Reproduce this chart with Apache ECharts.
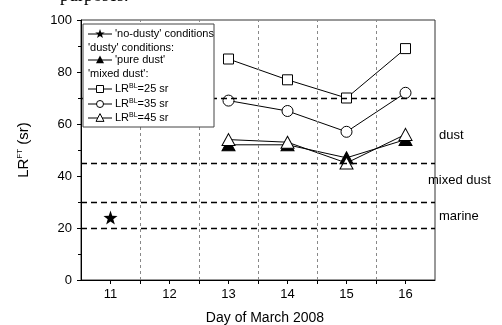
<!DOCTYPE html>
<html><head><meta charset="utf-8">
<script src="https://cdn.jsdelivr.net/npm/echarts@6/dist/echarts.min.js"></script>
<style>html,body{margin:0;padding:0;background:#fff}#c{width:502px;height:325px}</style>
</head><body><div id="c"></div>
<script>
const days = [13, 14, 15, 16];
const noDustyDay = [11];
const noDusty = [24];
const pureDust = [52, 52, 47, 54];
const mixed25 = [85, 77, 70, 89];
const mixed35 = [69, 65, 57, 72];
const mixed45 = [54, 53, 45, 56];
const yTicks = [0, 20, 40, 60, 80, 100];
const xTicks = [11, 12, 13, 14, 15, 16];
const boundaries = [70, 45, 30, 20];
const dayBreaks = [11.5, 12.5, 13.5, 14.5, 15.5];
const classLabels = ['dust', 'mixed dust', 'marine'];

const FONT = '"Liberation Sans", Arial, sans-serif';
const STAR = 'path://M0,-10L2.35,-3.24L9.51,-3.09L3.8,1.24L5.88,8.09L0,4L-5.88,8.09L-3.8,1.24L-9.51,-3.09L-2.35,-3.24Z';
const pairs = (xs, ys) => xs.map((x, i) => [x, ys[i]]);

const chart = echarts.init(document.getElementById('c'), null, {renderer: 'canvas'});

function starPts(cx, cy, r) {
  const pts = [];
  for (let i = 0; i < 10; i++) {
    const a = -Math.PI / 2 + i * Math.PI / 5;
    const rr = i % 2 ? r * 0.4 : r;
    pts.push([cx + rr * Math.cos(a), cy + rr * Math.sin(a)]);
  }
  return pts;
}
function triPts(cx, cy, s) {
  return [[cx, cy - s * 0.55], [cx + s * 0.5, cy + s * 0.42], [cx - s * 0.5, cy + s * 0.42]];
}
const lx0 = 88, lx1 = 112, lxm = 100, tx = 115;
const legendG = [
  {type: 'rect', shape: {x: 83, y: 24, width: 131, height: 103}, style: {fill: '#fff', stroke: '#444', lineWidth: 1}},
];
function lineRow(y) {
  legendG.push({type: 'line', shape: {x1: lx0, y1: y, x2: lx1, y2: y}, style: {stroke: '#000', lineWidth: 1}});
}
function txt(x, y, t) {
  legendG.push({type: 'text', x: x, y: y, style: {text: t, font: '11px ' + FONT, fill: '#000', verticalAlign: 'middle'}});
}
function lrTxt(y, v) {
  legendG.push({type: 'text', x: tx, y: y, style: {
    text: '{a|LR}{s|BL}{a|=' + v + ' sr}', verticalAlign: 'middle',
    rich: {a: {font: '11px ' + FONT, fill: '#000'}, s: {font: '7px ' + FONT, fill: '#000', verticalAlign: 'top', padding: [0,0,5,0]}}
  }});
}
lineRow(34); legendG.push({type: 'polygon', shape: {points: starPts(lxm, 34, 5)}, style: {fill: '#000'}}); txt(tx, 34, "'no-dusty' conditions");
txt(lx0, 48, "'dusty' conditions:");
lineRow(60); legendG.push({type: 'polygon', shape: {points: triPts(lxm, 60, 8)}, style: {fill: '#000'}}); txt(tx, 60, "'pure dust'");
txt(lx0, 74, "'mixed dust':");
lineRow(89); legendG.push({type: 'rect', shape: {x: lxm - 3.5, y: 85.5, width: 7, height: 7}, style: {fill: '#fff', stroke: '#000', lineWidth: 1}}); lrTxt(89, 25);
lineRow(104); legendG.push({type: 'circle', shape: {cx: lxm, cy: 104, r: 3.5}, style: {fill: '#fff', stroke: '#000', lineWidth: 1}}); lrTxt(104, 35);
lineRow(118); legendG.push({type: 'polygon', shape: {points: triPts(lxm, 118, 8)}, style: {fill: '#fff', stroke: '#000', lineWidth: 1}}); lrTxt(118, 45);
legendG.forEach(g => { g.z = 100; });

const sideLabels = [
  {type: 'text', x: 439, y: 135, style: {text: classLabels[0], font: '13px ' + FONT, fill: '#000', verticalAlign: 'middle'}},
  {type: 'text', x: 428, y: 180, style: {text: classLabels[1], font: '13px ' + FONT, fill: '#000', verticalAlign: 'middle'}},
  {type: 'text', x: 439, y: 216, style: {text: classLabels[2], font: '13px ' + FONT, fill: '#000', verticalAlign: 'middle'}},
  {type: 'text', x: 265, y: 318, style: {text: 'Day of March 2008', font: '14px ' + FONT, fill: '#000', align: 'center', verticalAlign: 'middle'}},
  {type: 'text', x: 60, y: 5, style: {text: 'purposes.', font: '18px "Liberation Serif", "Times New Roman", serif', fill: '#000', verticalAlign: 'bottom'}},
];

const option = {
  animation: false,
  backgroundColor: '#fff',
  grid: {left: 81, right: 67, top: 20, bottom: 45, show: true, borderColor: '#333', borderWidth: 1, backgroundColor: 'transparent'},
  xAxis: {
    type: 'value', min: 10.5, max: 16.5, interval: 0.5,
    axisLine: {show: true, onZero: false, lineStyle: {color: '#000', width: 1}},
    axisTick: {show: true, length: 4, lineStyle: {color: '#000'}},
    axisLabel: {margin: 8, color: '#000', fontSize: 13, fontFamily: FONT,
      formatter: v => xTicks.includes(v) ? String(v) : '', showMinLabel: false, showMaxLabel: false},
    splitLine: {show: false}
  },
  yAxis: {
    type: 'value', min: yTicks[0], max: yTicks[yTicks.length - 1], interval: 20,
    name: '{a|LR}{s|FT}{a| (sr)}', nameLocation: 'middle', nameGap: 50, nameRotate: 90,
    nameTextStyle: {rich: {a: {fontSize: 15, fontFamily: FONT, color: '#000'}, s: {fontSize: 8, fontFamily: FONT, color: '#000', verticalAlign: 'top', padding: [0,0,7,0]}}},
    axisLine: {show: true, lineStyle: {color: '#000', width: 1}},
    axisTick: {show: true, length: 4, lineStyle: {color: '#000'}},
    minorTick: {show: true, splitNumber: 2, length: 3, lineStyle: {color: '#000'}},
    axisLabel: {margin: 9, color: '#000', fontSize: 13, fontFamily: FONT},
    splitLine: {show: false}
  },
  series: [
    {type: 'line', data: [], silent: true,
      markLine: {silent: true, symbol: 'none', label: {show: false},
        lineStyle: {type: [3, 3], color: '#888', width: 1},
        data: dayBreaks.map(v => ({xAxis: v}))}},
    {type: 'line', data: [], silent: true,
      markLine: {silent: true, symbol: 'none', label: {show: false},
        lineStyle: {type: [6, 4], color: '#000', width: 1.3},
        data: boundaries.map(v => ({yAxis: v}))}},
    {name: 'no-dusty', type: 'line', data: pairs(noDustyDay, noDusty), symbol: STAR, symbolSize: 14,
      itemStyle: {color: '#000'}, lineStyle: {color: '#000', width: 1}},
    {name: 'pure dust', type: 'line', data: pairs(days, pureDust), symbol: 'triangle', symbolSize: [13, 12],
      itemStyle: {color: '#000', borderColor: '#000'}, lineStyle: {color: '#000', width: 1}},
    {name: 'LR25', type: 'line', data: pairs(days, mixed25), symbol: 'rect', symbolSize: 10,
      itemStyle: {color: '#fff', borderColor: '#000', borderWidth: 1}, lineStyle: {color: '#000', width: 1}},
    {name: 'LR35', type: 'line', data: pairs(days, mixed35), symbol: 'circle', symbolSize: 11,
      itemStyle: {color: '#fff', borderColor: '#000', borderWidth: 1}, lineStyle: {color: '#000', width: 1}},
    {name: 'LR45', type: 'line', data: pairs(days, mixed45), symbol: 'triangle', symbolSize: [13, 12],
      itemStyle: {color: '#fff', borderColor: '#000', borderWidth: 1}, lineStyle: {color: '#000', width: 1}}
  ],
  graphic: legendG.concat(sideLabels)
};
chart.setOption(option);
</script></body></html>
